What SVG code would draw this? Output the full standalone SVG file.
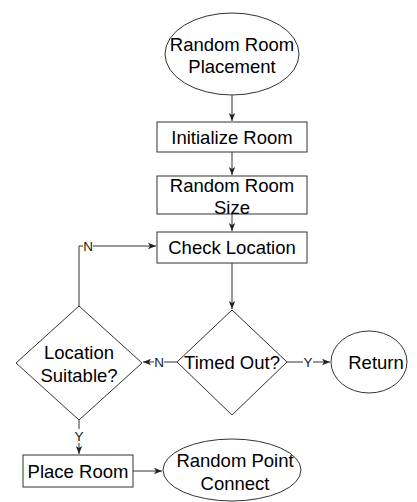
<svg xmlns="http://www.w3.org/2000/svg" width="417" height="502" viewBox="0 0 417 502">
  <style>
    .shape { fill: #ffffff; stroke: #333333; stroke-width: 1; }
    .label { font-family: "Liberation Sans", Arial, sans-serif; font-size: 18.5px; fill: #000000; text-anchor: middle; dominant-baseline: central; }
    .edge { fill: none; stroke: #333333; stroke-width: 1; }
    .edge-label { font-family: "Liberation Sans", Arial, sans-serif; font-size: 13.5px; fill: #1a1a1a; text-anchor: middle; dominant-baseline: central; }
    .label-bg { fill: #ffffff; }
  </style>
  <defs>
    <marker id="arrow" viewBox="0 0 8 8" refX="8" refY="4" markerWidth="8" markerHeight="8" markerUnits="userSpaceOnUse" orient="auto">
      <path d="M0,0.8 L8,4 L0,7.2 L2,4 Z" fill="#222222"/>
    </marker>
  </defs>
  <rect width="417" height="502" fill="#ffffff"/>

  <!-- connectors -->
  <g id="connectors">
    <path class="edge" d="M232,95 L232,121" marker-end="url(#arrow)"/>
    <path class="edge" d="M232,152 L232,175" marker-end="url(#arrow)"/>
    <path class="edge" d="M232,214 L232,231" marker-end="url(#arrow)"/>
    <path class="edge" d="M232,263 L232,309" marker-end="url(#arrow)"/>
    <path class="edge" d="M287,362 L330,362" marker-end="url(#arrow)"/>
    <path class="edge" d="M177,362 L143,362" marker-end="url(#arrow)"/>
    <path class="edge" d="M79,306 L79,246 L156,246" marker-end="url(#arrow)"/>
    <path class="edge" d="M79,420 L79,454" marker-end="url(#arrow)"/>
    <path class="edge" d="M133,471 L162,471" marker-end="url(#arrow)"/>
    <!-- edge labels -->
    <rect class="label-bg" x="303" y="355" width="10" height="14"/>
    <text class="edge-label" x="308" y="362">Y</text>
    <rect class="label-bg" x="154" y="355" width="10" height="14"/>
    <text class="edge-label" x="159" y="362">N</text>
    <rect class="label-bg" x="83" y="239" width="10" height="14"/>
    <text class="edge-label" x="88" y="246">N</text>
    <rect class="label-bg" x="73" y="429" width="12" height="14"/>
    <text class="edge-label" x="79" y="436">Y</text>
  </g>

  <g id="start">
    <ellipse class="shape" cx="232" cy="54" rx="67" ry="41"/>
    <text class="label" x="232" y="44">Random Room</text>
    <text class="label" x="232" y="66">Placement</text>
  </g>

  <g id="init-room">
    <rect class="shape" x="157" y="122" width="150" height="30"/>
    <text class="label" x="232" y="137">Initialize Room</text>
  </g>

  <g id="room-size">
    <rect class="shape" x="157" y="176" width="150" height="38"/>
    <text class="label" x="232" y="185">Random Room</text>
    <text class="label" x="232" y="207">Size</text>
  </g>

  <g id="check-location">
    <rect class="shape" x="157" y="232" width="150" height="31"/>
    <text class="label" x="232" y="247">Check Location</text>
  </g>

  <g id="timed-out">
    <polygon class="shape" points="232,310 287,362 232,415 177,362"/>
    <text class="label" x="232" y="362">Timed Out?</text>
  </g>

  <g id="return">
    <ellipse class="shape" cx="369" cy="362" rx="38" ry="31"/>
    <text class="label" x="376" y="362">Return</text>
  </g>

  <g id="location-suitable">
    <polygon class="shape" points="79,306 142,363 79,420 16,363"/>
    <text class="label" x="79" y="352">Location</text>
    <text class="label" x="79" y="375">Suitable?</text>
  </g>

  <g id="place-room">
    <rect class="shape" x="23" y="455" width="110" height="32"/>
    <text class="label" x="78" y="471">Place Room</text>
  </g>

  <g id="random-point-connect">
    <ellipse class="shape" cx="232" cy="470" rx="69" ry="31"/>
    <text class="label" x="235" y="460">Random Point</text>
    <text class="label" x="235" y="483">Connect</text>
  </g>
</svg>
